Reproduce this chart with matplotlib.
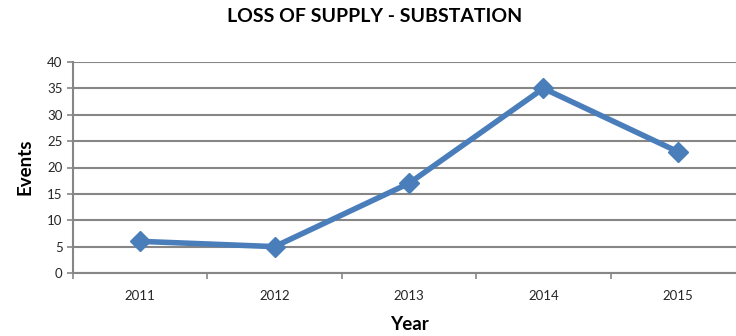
import matplotlib
matplotlib.use("Agg")
import matplotlib.pyplot as plt
from matplotlib.ticker import MultipleLocator, FixedLocator

years = ["2011", "2012", "2013", "2014", "2015"]
events = [6, 5, 17, 35, 23]

plt.rcParams['font.family'] = ['Lato', 'DejaVu Sans']

fig = plt.figure(figsize=(7.36, 3.36), dpi=100)
W, H = 736, 336
left, right, top, bottom = 73, 745, 62, 273
ax = fig.add_axes([left / W, 1 - bottom / H, (right - left) / W, (bottom - top) / H])

x = list(range(len(years)))
ax.plot(x, events, color="#4a7ebb", linewidth=4, marker="D", markersize=10,
        markerfacecolor="#4a7ebb", markeredgecolor="#4a7ebb", zorder=3, clip_on=False)

ax.set_xlim(-0.5, len(years) - 0.5)
ax.set_ylim(0, 40)
ax.yaxis.set_major_locator(MultipleLocator(5))
ax.grid(axis="y", color="#868686", linewidth=1.5)
ax.set_axisbelow(True)

ax.set_xticks(x)
ax.set_xticklabels(years)
ax.xaxis.set_minor_locator(FixedLocator([i - 0.5 for i in range(len(years) + 1)]))
ax.tick_params(axis="x", which="major", length=0, pad=12, labelsize=9.5, colors="#262626")
ax.tick_params(axis="x", which="minor", length=4, color="#868686", width=1.2)
ax.tick_params(axis="y", length=4, color="#868686", width=1.2, labelsize=9.5, labelcolor="#262626")

for s in ["top", "right"]:
    ax.spines[s].set_visible(False)
for s in ["left", "bottom"]:
    ax.spines[s].set_color("#868686")
    ax.spines[s].set_linewidth(1.5)

fig.text(375 / W, 1 - 17 / H, "LOSS OF SUPPLY - SUBSTATION", ha="center", va="center",
         fontsize=14, fontweight="bold", color="black")
fig.text(409 / W, 1 - 324 / H, "Year", ha="center", va="center",
         fontsize=13.5, fontweight="bold", color="black")
fig.text(25 / W, 1 - 167 / H, "Events", ha="center", va="center", rotation=90,
         fontsize=13.5, fontweight="bold", color="black")

fig.savefig("out.png", dpi=100)
